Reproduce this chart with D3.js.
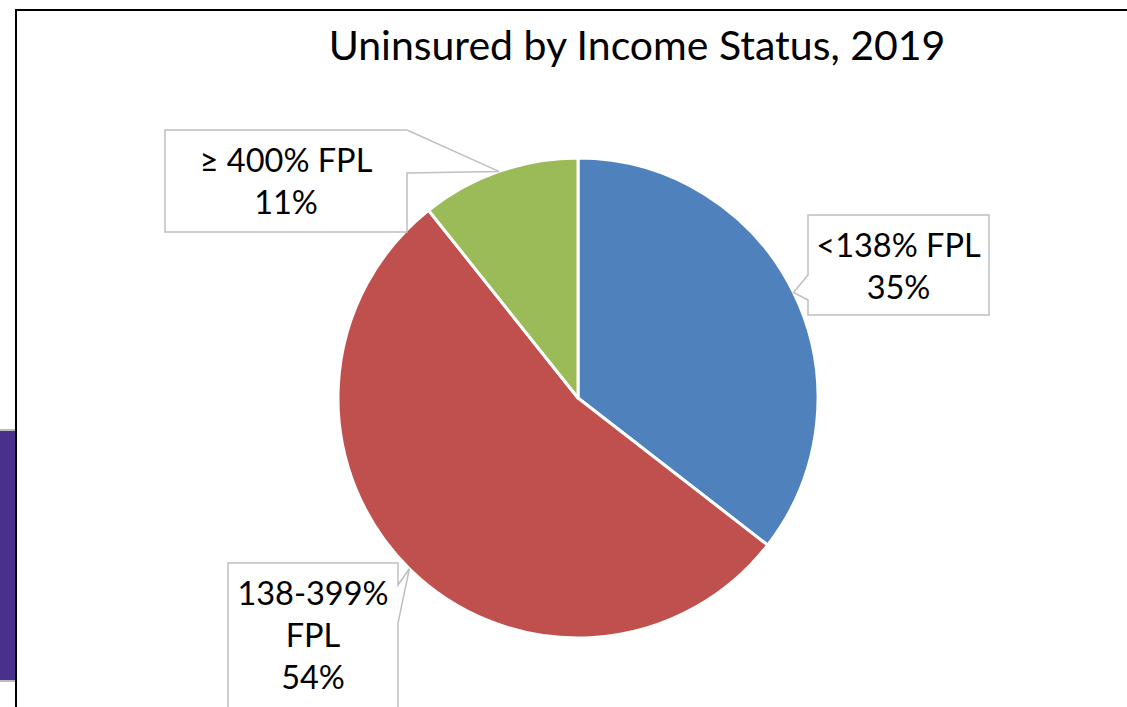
<!DOCTYPE html>
<html lang="en">
<head>
    <meta charset="UTF-8">
    <title>Uninsured by Income Status, 2019</title>
    <script src="https://d3js.org/d3.v7.min.js"></script>
    <style>
        html, body { margin: 0; padding: 0; background: #fff; overflow: hidden; }
        svg { display: block; font-family: Lato, "Open Sans", sans-serif; }
    </style>
</head>
<body>
    <svg width="1127" height="707"></svg>
    <script>
        const width = 1127;
        const height = 707;

        // data (shares; labels as printed)
        const categories = ["<138% FPL", "138-399% FPL", "\u2265 400% FPL"];
        const values = [35.5, 53.8, 10.7];
        const labelLines = [["<138% FPL", "35%"], ["138-399%", "FPL", "54%"], ["\u2265 400% FPL", "11%"]];
        const colors = ["#4F81BD", "#C0504D", "#9BBB59"];

        // callout box layout (x, y, w, h) and which side the pointer leaves from
        const boxes = [
            { x: 808, y: 215, w: 181, h: 100, side: "left", b0: 275, b1: 300 },
            { x: 228, y: 563, w: 170, h: 160, side: "right", b0: 585, b1: 623 },
            { x: 165, y: 130, w: 242, h: 102, side: "right", b0: 130, b1: 173 }
        ];

        const svg = d3.select("svg");
        const cx = 578, cy = 398, r = 240;

        // purple tab on the left edge
        svg.append("rect").attr("x", 0).attr("y", 429).attr("width", 16).attr("height", 253).attr("fill", "#bcbcbc");
        svg.append("rect").attr("x", 0).attr("y", 431).attr("width", 16).attr("height", 249).attr("fill", "#49308d");

        // chart frame
        svg.append("rect")
            .attr("x", 16).attr("y", 10)
            .attr("width", width).attr("height", height)
            .attr("fill", "#fff").attr("stroke", "#000").attr("stroke-width", 2);

        svg.append("text")
            .attr("x", 637).attr("y", 60)
            .attr("text-anchor", "middle")
            .attr("font-size", 41)
            .attr("fill", "#000")
            .text("Uninsured by Income Status, 2019");

        const pie = d3.pie().sort(null).value(d => d);
        const arcs = pie(values);
        const arc = d3.arc().innerRadius(0).outerRadius(r);

        const g = svg.append("g").attr("transform", `translate(${cx},${cy})`);
        g.selectAll("path")
            .data(arcs)
            .enter().append("path")
            .attr("d", arc)
            .attr("fill", (d, i) => colors[i])
            .attr("stroke", "#fff")
            .attr("stroke-width", 3)
            .attr("stroke-linejoin", "round");

        // callouts
        arcs.forEach((d, i) => {
            const mid = (d.startAngle + d.endAngle) / 2;
            const tx = cx + r * Math.sin(mid);
            const ty = cy - r * Math.cos(mid);
            const b = boxes[i];
            const ex = b.side === "left" ? b.x : b.x + b.w;
            let pts;
            if (b.side === "left") {
                pts = [[b.x, b.y], [b.x + b.w, b.y], [b.x + b.w, b.y + b.h], [b.x, b.y + b.h],
                       [ex, b.b1], [tx, ty], [ex, b.b0]];
            } else {
                pts = [[b.x, b.y], [ex, b.y], [ex, b.b0], [tx, ty], [ex, b.b1],
                       [ex, b.y + b.h], [b.x, b.y + b.h]];
            }
            svg.append("path")
                .attr("d", d3.line()(pts) + "Z")
                .attr("fill", "#fff")
                .attr("stroke", "#bfbfbf")
                .attr("stroke-width", 1.5);

            const lines = labelLines[i];
            const lh = 42;
            lines.forEach((t, k) => {
                svg.append("text")
                    .attr("x", b.x + b.w / 2)
                    .attr("y", b.y + 42 + k * lh)
                    .attr("text-anchor", "middle")
                    .attr("font-size", 32.5)
                    .attr("fill", "#000")
                    .text(t);
            });
        });
    </script>
</body>
</html>
